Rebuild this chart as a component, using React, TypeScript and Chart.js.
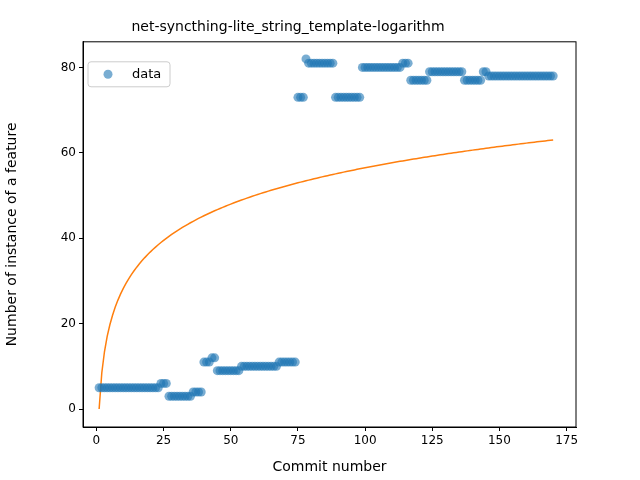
import { useEffect, useRef } from 'react';
import { Chart, registerables } from 'chart.js';

Chart.register(...registerables);

const blue = 'rgba(31,119,180,0.6)';
const orange = '#ff7f0e';

const commits = Array.from({ length: 170 }, (_, i) => i + 1);
const counts = [
  5, 5, 5, 5, 5, 5, 5, 5, 5, 5, 5, 5, 5, 5, 5, 5, 5, 5, 5, 5, 5, 5, 5,
  6, 6, 6,
  3, 3, 3, 3, 3, 3, 3, 3, 3,
  4, 4, 4, 4,
  11, 11, 11,
  12, 12,
  9, 9, 9, 9, 9, 9, 9, 9, 9,
  10, 10, 10, 10, 10, 10, 10, 10, 10, 10, 10, 10, 10, 10,
  11, 11, 11, 11, 11, 11, 11,
  73, 73, 73,
  82,
  81, 81, 81, 81, 81, 81, 81, 81, 81, 81,
  73, 73, 73, 73, 73, 73, 73, 73, 73, 73,
  80, 80, 80, 80, 80, 80, 80, 80, 80, 80, 80, 80, 80, 80, 80,
  81, 81, 81,
  77, 77, 77, 77, 77, 77, 77,
  79, 79, 79, 79, 79, 79, 79, 79, 79, 79, 79, 79, 79,
  77, 77, 77, 77, 77, 77, 77,
  79, 79,
  78, 78, 78, 78, 78, 78, 78, 78, 78, 78, 78, 78, 78, 78, 78, 78, 78, 78, 78, 78, 78, 78, 78, 78, 78,
];
// logarithmic fit y = a*ln(x) + b
const fitA = 12.27;
const fitB = 0;
const xTicks = [0, 25, 50, 75, 100, 125, 150, 175];
const yTicks = [0, 20, 40, 60, 80];

const frame = {
  id: 'frame',
  afterDraw(chart: Chart) {
    const { ctx, chartArea: a } = chart;
    ctx.save();
    ctx.strokeStyle = '#000';
    ctx.lineWidth = 1;
    ctx.strokeRect(a.left, a.top, a.right - a.left, a.bottom - a.top);
    // legend box
    const lx = a.left + 5, ly = a.top + 20;
    ctx.fillStyle = 'rgba(255,255,255,0.8)';
    ctx.strokeStyle = '#ccc';
    ctx.beginPath();
    ctx.roundRect(lx, ly, 82, 25, 3);
    ctx.fill();
    ctx.stroke();
    ctx.fillStyle = blue;
    ctx.beginPath();
    ctx.arc(lx + 20, ly + 12.5, 4.5, 0, Math.PI * 2);
    ctx.fill();
    ctx.fillStyle = '#000';
    ctx.font = '13px "DejaVu Sans"';
    ctx.textBaseline = 'middle';
    ctx.fillText('data', lx + 44, ly + 12.5);
    ctx.restore();
  },
};

export default function App() {
  const ref = useRef<HTMLCanvasElement>(null);

  useEffect(() => {
    if (!ref.current) return;
    document.body.style.margin = '0';
    const font = { family: 'DejaVu Sans', size: 12 };
    const chart = new Chart(ref.current, {
      type: 'scatter',
      data: {
        datasets: [
          {
            label: 'data',
            data: commits.map((x, i) => ({ x, y: counts[i] })),
            backgroundColor: blue,
            borderColor: blue,
            pointRadius: 4.5,
            borderWidth: 0,
          },
          {
            label: 'fit',
            type: 'line',
            data: commits.map(x => ({ x, y: fitA * Math.log(x) + fitB })),
            borderColor: orange,
            borderWidth: 1.5,
            pointRadius: 0,
          },
        ],
      },
      options: {
        responsive: false,
        animation: false,
        layout: { padding: { left: 0, right: 64, top: 0, bottom: 0 } },
        plugins: {
          title: {
            display: true,
            text: 'net-syncthing-lite_string_template-logarithm',
            color: '#000',
            font: { family: 'DejaVu Sans', size: 14, weight: 'normal' },
            padding: { top: 19, bottom: 6 },
          },
          legend: { display: false },
          tooltip: { enabled: false },
        },
        scales: {
          x: {
            type: 'linear',
            min: -5,
            max: 178.5,
            afterBuildTicks: axis => { axis.ticks = xTicks.map(value => ({ value })); },
            afterFit: axis => { axis.height = 53; },
            ticks: { color: '#000', font },
            grid: { drawOnChartArea: false, tickLength: 4, color: '#000' },
            border: { color: '#000' },
            title: { display: true, text: 'Commit number', color: '#000', font: { family: 'DejaVu Sans', size: 14 } },
          },
          y: {
            min: -4.2,
            max: 86,
            afterBuildTicks: axis => { axis.ticks = yTicks.map(value => ({ value })); },
            afterFit: axis => { axis.width = 83; },
            ticks: { color: '#000', font },
            grid: { drawOnChartArea: false, tickLength: 4, color: '#000' },
            border: { color: '#000' },
            title: { display: true, text: 'Number of instance of a feature', color: '#000', font: { family: 'DejaVu Sans', size: 14 } },
          },
        },
      },
      plugins: [frame],
    });
    return () => chart.destroy();
  }, []);

  return <canvas ref={ref} width={640} height={480} />;
}
